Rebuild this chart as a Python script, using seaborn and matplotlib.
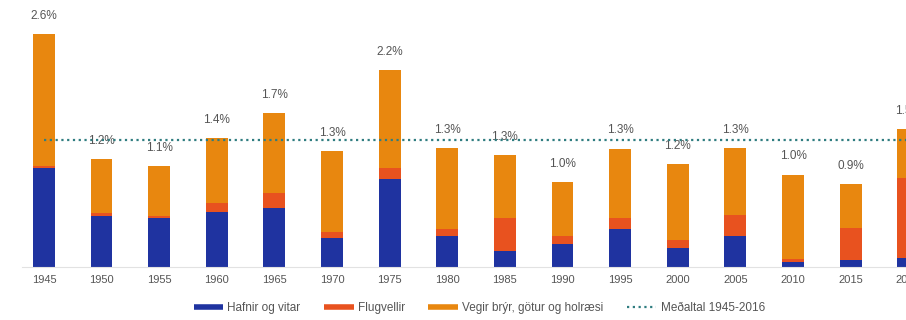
import numpy as np
import seaborn as sns
import matplotlib.pyplot as plt
from matplotlib.lines import Line2D

# --- DATA ---
years = ['1945', '1950', '1955', '1960', '1965', '1970', '1975', '1980',
         '1985', '1990', '1995', '2000', '2005', '2010', '2015', '2016']
hafnir = [1.10, 0.57, 0.55, 0.61, 0.66, 0.32, 0.98, 0.34,
          0.18, 0.26, 0.42, 0.21, 0.35, 0.05, 0.08, 0.10]
flugvellir = [0.02, 0.03, 0.02, 0.10, 0.16, 0.07, 0.12, 0.08,
              0.37, 0.08, 0.12, 0.09, 0.23, 0.04, 0.35, 0.89]
vegir = [1.48, 0.60, 0.55, 0.73, 0.90, 0.90, 1.10, 0.91,
         0.70, 0.61, 0.78, 0.85, 0.75, 0.94, 0.49, 0.55]
pct_labels = ['2.6%', '1.2%', '1.1%', '1.4%', '1.7%', '1.3%', '2.2%', '1.3%',
              '1.3%', '1.0%', '1.3%', '1.2%', '1.3%', '1.0%', '0.9%', '1.5%']
mean_1945_2016 = 1.41

BLUE = '#1f33a0'
RED = '#e8521f'
ORANGE = '#e8870f'
TEAL = '#2f7d80'
GREY = '#555555'

sns.set_style('white')
plt.rcParams['font.family'] = ['Liberation Sans', 'DejaVu Sans']

h = np.array(hafnir)
f = np.array(flugvellir)
v = np.array(vegir)
total = h + f + v

fig = plt.figure(figsize=(9.06, 3.2), dpi=100)
# axes run past the right edge so the 2016 bar is cut off like in the reference
ax = fig.add_axes([0.0243, 0.166, 1.01, 0.8125])

# stacked bars: draw cumulative heights back to front
for vals, col in [(total, ORANGE), (h + f, RED), (h, BLUE)]:
    sns.barplot(x=years, y=vals, color=col, width=0.38, saturation=1,
                linewidth=0, ax=ax)

ax.plot(np.arange(len(years)), [mean_1945_2016] * len(years),
        color=TEAL, ls=(0, (1, 1.6)), lw=1.6, zorder=5)

for i, (t, lab) in enumerate(zip(total, pct_labels)):
    ax.annotate(lab, (i, t), xytext=(0, 13), textcoords='offset points',
                ha='center', va='center', fontsize=8.5, color=GREY)

ax.set_xlim(-0.38, 15.5)
ax.set_ylim(0, 2.9)
ax.set_yticks([])
ax.set_xlabel('')
ax.set_ylabel('')
for s in ['top', 'right', 'left']:
    ax.spines[s].set_visible(False)
ax.spines['bottom'].set_color('#e2e2e2')
ax.tick_params(axis='x', length=0, pad=6, labelsize=8, labelcolor=GREY)

handles = [
    Line2D([], [], color=BLUE, lw=4, solid_capstyle='butt'),
    Line2D([], [], color=RED, lw=4, solid_capstyle='butt'),
    Line2D([], [], color=ORANGE, lw=4, solid_capstyle='butt'),
    Line2D([], [], color=TEAL, lw=1.6, ls=(0, (1, 1.6))),
]
labels = ['Hafnir og vitar', 'Flugvellir', 'Vegir brýr, götur og holræsi',
          'Meðaltal 1945-2016']
fig.legend(handles, labels, loc='center', bbox_to_anchor=(0.529, 0.038),
           ncol=4, frameon=False, fontsize=8.5, handlelength=2.5,
           columnspacing=2.0, labelcolor=GREY, handletextpad=0.35)

fig.savefig('out.png', dpi=100)
